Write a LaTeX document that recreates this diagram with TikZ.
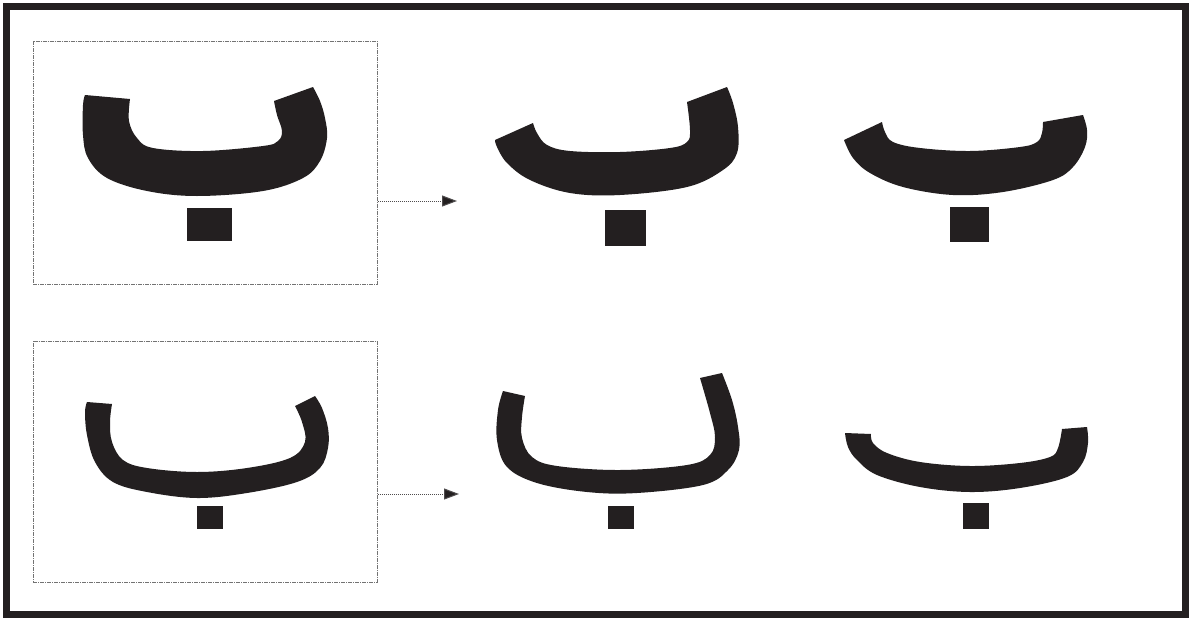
\documentclass[tikz,border=0pt]{standalone}
\usetikzlibrary{arrows.meta}
\definecolor{ink}{RGB}{35,31,32}
\begin{document}
\begin{tikzpicture}[x=1pt,y=-1pt,
  framebox/.style={draw=black!55, line width=0.9pt, dash pattern=on 4pt off 1pt on 1pt off 1pt},
  glyph/.style={fill=ink, draw=none},
  dotsq/.style={fill=ink, draw=none},
  flow/.style={draw=ink!80, line width=1pt, densely dotted, -{Triangle[length=15pt,width=11pt,fill=ink]}}]
\useasboundingbox (0,0) rectangle (1192,621);
\fill[white] (0,0) rectangle (1192,621);
\draw[line width=7pt, ink] (6.5,6.5) rectangle (1185.5,614.5);

% boxes
\node[framebox, minimum width=344pt, minimum height=243pt, inner sep=0pt, anchor=north west] (boxA) at (33,41) {};
\node[framebox, minimum width=344pt, minimum height=241pt, inner sep=0pt, anchor=north west] (boxB) at (33,341) {};

\coordinate (endA) at (457,201);
\coordinate (endB) at (459,494);
\draw[flow] (boxA.east |- endA) -- (endA);
\draw[flow] (boxB.east |- endB) -- (endB);

% glyph 1 (top left)
\fill[glyph] (85,95) -- plot[smooth, tension=0.6] coordinates {(130,99) (129,121) (137,138) (153,148) (203,151) (263,146) (278,141) (282,131) (277,115) (274,101)}
  -- plot[smooth, tension=0.6] coordinates {(313,87) (320,101) (325,118) (327,138) (320,161) (303,178) (263,191) (197,196) (147,191) (107,178) (88,158) (83,135) (83,105) (85,95)} -- cycle;
\fill[dotsq] (187,208) rectangle (232,241);

% glyph 2 (top middle)
\fill[glyph] (495,140) -- plot[smooth, tension=0.6] coordinates {(533,123) (537,133) (547,145) (570,151) (620,152) (670,148) (687,142) (690,130) (687,102)}
  -- plot[smooth, tension=0.6] coordinates {(727,87) (733,103) (738,127) (737,153) (723,170) (687,187) (620,195) (570,193) (530,180) (507,163) (497,147) (495,140)} -- cycle;
\fill[dotsq] (605,210) rectangle (646,246);

% glyph 3 (top right)
\fill[glyph] (844,140) -- plot[smooth, tension=0.6] coordinates {(882,122) (885,132) (893,142) (920,148) (970,151) (1020,147) (1037,142) (1042,133) (1043,122)}
  -- plot[smooth, tension=0.6] coordinates {(1083,115) (1087,130) (1085,147) (1073,167) (1053,180) (1003,192) (953,195) (903,187) (870,173) (853,158) (844,140)} -- cycle;
\fill[dotsq] (950,207) rectangle (989,242);

% glyph 4 (bottom left)
\fill[glyph] (87,402) -- plot[smooth, tension=0.6] coordinates {(112,404) (110,422) (112,442) (123,460) (147,468) (197,472) (247,468) (290,458) (305,442) (302,422) (295,406)}
  -- plot[smooth, tension=0.6] coordinates {(315,396) (322,408) (328,428) (328,448) (320,468) (297,482) (247,493) (197,498) (147,492) (113,482) (95,462) (87,435) (85,412) (87,402)} -- cycle;
\fill[dotsq] (197,506) rectangle (223,529);

% glyph 5 (bottom middle)
\fill[glyph] (503,391) -- plot[smooth, tension=0.6] coordinates {(525,396) (522,417) (522,438) (532,457) (557,466) (620,470) (687,465) (710,455) (715,437) (710,413) (700,378)}
  -- plot[smooth, tension=0.6] coordinates {(722,373) (732,400) (738,427) (739,450) (728,470) (703,485) (637,493) (587,492) (537,483) (507,467) (497,440) (498,410) (503,391)} -- cycle;
\fill[dotsq] (608,506) rectangle (634,529);

% glyph 6 (bottom right)
\fill[glyph] (845,433) -- plot[smooth, tension=0.6] coordinates {(871,434) (873,443) (887,453) (920,462) (970,466) (1020,463) (1050,457) (1058,448) (1062,429)}
  -- plot[smooth, tension=0.6] coordinates {(1087,427) (1088,443) (1083,462) (1067,477) (1020,488) (970,492) (920,487) (877,475) (857,460) (848,447) (845,433)} -- cycle;
\fill[dotsq] (963,503) rectangle (989,529);
\end{tikzpicture}
\end{document}
